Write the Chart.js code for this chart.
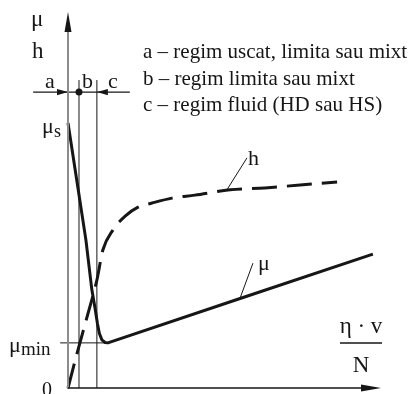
<!DOCTYPE html>
<html>
<head>
<meta charset="utf-8">
<script src="https://cdn.jsdelivr.net/npm/chart.js@4"></script>
<style>
  html, body { margin: 0; padding: 0; background: #fff; }
  canvas { display: block; }
</style>
</head>
<body>
<canvas id="stribeck" width="408" height="394"></canvas>
<script>
// Stribeck curve: friction coefficient μ and film thickness h against η·v/N
const muCurveX = [0, 5.7, 7.6, 8.6, 9.4, 10.0, 10.8, 11.8, 12.7, 54.8, 97.1];
const muCurveY = [70.5, 39.4, 26.1, 21.3, 17.0, 14.5, 12.8, 12.1, 12.0, 23.8, 35.6];
const hCurveX = [0, 2.9, 6.4, 9.2, 11.1, 14.3, 18.2, 22.3, 26.8, 33.1, 40.4, 51.6, 62.7, 73.9, 85.7];
const hCurveY = [0, 9.3, 19.9, 28.7, 36.7, 42.0, 45.7, 48.1, 49.2, 50.5, 51.3, 52.7, 53.2, 54.0, 54.8];
const muStatic = 70.5;
const muMin = 12.0;
const regimeLimits = [3.5, 9.2];   // boundaries drawn as thin verticals
const regimeTop = 81.9;
const bracketLevel = 78.7;
const bracketSpan = [-11.1, 19.7];
const muMinSpan = [-2.5, 11.8];
const hLeader = [[50.6, 52.7], [57.0, 61.2]];
const muLeader = [[54.8, 23.9], [58.9, 33.2]];
const legendLines = [
  'a \u2013 regim uscat, limita sau mixt',
  'b \u2013 regim limita sau mixt',
  'c \u2013 regim fluid (HD sau HS)'
];

const serif = "'Liberation Serif', 'Times New Roman', serif";
const ink = '#161616';

const zip = (xs, ys) => xs.map((x, i) => ({ x: x, y: ys[i] }));
const seg = (a, b) => [{ x: a[0], y: a[1] }, { x: b[0], y: b[1] }];

function thin(data, width) {
  return { data: data, borderColor: ink, borderWidth: width || 1, pointRadius: 0, tension: 0, clip: false };
}

// axes, arrow heads and all text labels
const annotations = {
  id: 'annotations',
  afterDatasetsDraw(chart) {
    const c = chart.ctx;
    const xs = chart.scales.x, ys = chart.scales.y;
    const area = chart.chartArea;
    const x0 = xs.getPixelForValue(0), y0 = ys.getPixelForValue(0);

    function head(tx, ty, dx, dy, len, half) {
      // triangle with tip at (tx,ty) pointing along (dx,dy)
      c.beginPath();
      c.moveTo(tx, ty);
      c.lineTo(tx - dx * len - dy * half, ty - dy * len + dx * half);
      c.lineTo(tx - dx * len + dy * half, ty - dy * len - dx * half);
      c.closePath();
      c.fillStyle = ink;
      c.fill();
    }

    c.save();
    // y axis (grey) with arrow
    c.strokeStyle = '#8c8c8c';
    c.lineWidth = 2;
    c.beginPath();
    c.moveTo(x0, y0 + 1);
    c.lineTo(x0, area.top + 16);
    c.stroke();
    head(x0, area.top, 0, -1, 20, 3.5);

    // x axis with arrow
    c.strokeStyle = ink;
    c.lineWidth = 1.5;
    c.beginPath();
    c.moveTo(x0, y0);
    c.lineTo(area.right - 14, y0);
    c.stroke();
    head(area.right - 1, y0, 1, 0, 20, 3.5);

    // regime bracket arrows and marker dot
    const yb = ys.getPixelForValue(bracketLevel);
    head(x0, yb, 1, 0, 11, 3.2);
    head(xs.getPixelForValue(regimeLimits[1]), yb, -1, 0, 11, 3.2);
    c.beginPath();
    c.arc(xs.getPixelForValue(regimeLimits[0]), yb, 3.5, 0, Math.PI * 2);
    c.fill();

    c.fillStyle = ink;
    c.textBaseline = 'alphabetic';
    c.textAlign = 'left';

    // axis titles
    c.font = '23px ' + serif;
    c.fillText('\u03bc', 31, 26);
    c.fillText('h', 32, 58);

    // regime letters
    c.font = '22px ' + serif;
    c.fillText('a', 45, yb - 4);
    c.fillText('b', 82, yb - 4);
    c.fillText('c', 108, yb - 4);

    // legend
    c.font = '21px ' + serif;
    legendLines.forEach((t, i) => c.fillText(t, 143, 58 + i * 26.5));

    // μs and μmin
    const ys_ = ys.getPixelForValue(muStatic);
    c.font = '22px ' + serif;
    c.fillText('\u03bc', 42, ys_ + 10);
    c.font = '18px ' + serif;
    c.fillText('s', 54, ys_ + 14);
    const ym = ys.getPixelForValue(muMin);
    c.font = '22px ' + serif;
    c.fillText('\u03bc', 9, ym + 9);
    c.font = '19px ' + serif;
    c.fillText('min', 21, ym + 12);

    // origin
    c.font = '20px ' + serif;
    c.fillText('0', 42, y0 + 8);

    // curve labels at leader ends
    c.font = '22px ' + serif;
    c.fillText('h', xs.getPixelForValue(hLeader[1][0]) + 1, ys.getPixelForValue(hLeader[1][1]) + 7);
    c.fillText('\u03bc', xs.getPixelForValue(muLeader[1][0]) + 5, ys.getPixelForValue(muLeader[1][1]) + 7);

    // abscissa  η·v / N
    c.textAlign = 'center';
    c.font = '23px ' + serif;
    c.fillText('\u03b7 \u00b7 v', 361, 333);
    c.fillText('N', 361, 372);
    c.lineWidth = 1.5;
    c.beginPath();
    c.moveTo(340, 343);
    c.lineTo(382, 343);
    c.stroke();
    c.restore();
  }
};

new Chart(document.getElementById('stribeck'), {
  type: 'line',
  data: {
    datasets: [
      {
        label: 'h',
        data: zip(hCurveX, hCurveY),
        borderColor: ink,
        borderWidth: 3,
        borderDash: [25, 10],
        pointRadius: 0,
        cubicInterpolationMode: 'monotone',
        clip: false
      },
      {
        label: '\u03bc',
        data: zip(muCurveX, muCurveY),
        borderColor: ink,
        borderWidth: 3,
        pointRadius: 0,
        tension: 0,
        borderJoinStyle: 'round',
        clip: false
      },
      thin(seg([regimeLimits[0], 0], [regimeLimits[0], regimeTop])),
      thin(seg([regimeLimits[1], 0], [regimeLimits[1], regimeTop])),
      thin(seg([bracketSpan[0], bracketLevel], [bracketSpan[1], bracketLevel]), 1.3),
      thin(seg([muMinSpan[0], muMin], [muMinSpan[1], muMin])),
      thin(seg(hLeader[0], hLeader[1])),
      thin(seg(muLeader[0], muLeader[1]))
    ]
  },
  options: {
    responsive: false,
    animation: false,
    layout: { padding: { left: 68, right: 26, top: 12, bottom: 6 } },
    plugins: { legend: { display: false }, tooltip: { enabled: false } },
    scales: {
      x: { type: 'linear', min: 0, max: 100, display: false },
      y: { type: 'linear', min: 0, max: 100, display: false }
    }
  },
  plugins: [annotations]
});
</script>
</body>
</html>
